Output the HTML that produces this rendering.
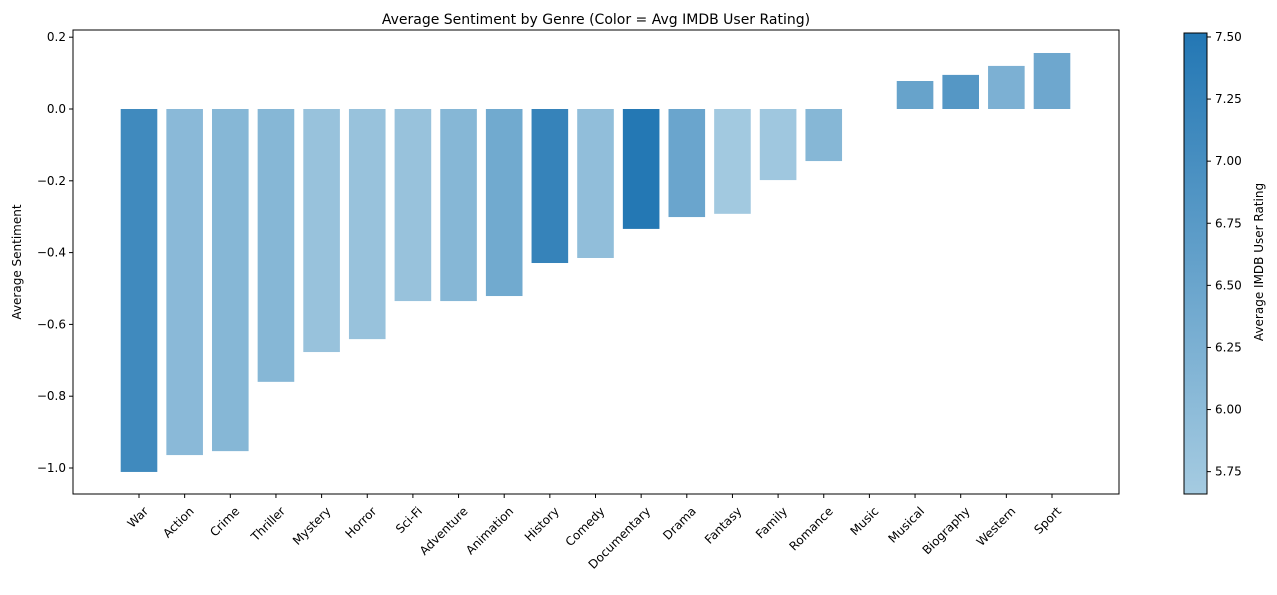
<!DOCTYPE html>
<html><head><meta charset="utf-8"><style>
body{margin:0;background:#fff;font-family:"Liberation Sans","DejaVu Sans",sans-serif;}
svg text{font-family:"DejaVu Sans","Liberation Sans",sans-serif;fill:#000;}
</style></head><body>
<svg id="chart" width="1277" height="590" xmlns="http://www.w3.org/2000/svg">
<defs><linearGradient id="cbg" x1="0" y1="1" x2="0" y2="0"><stop offset="0" stop-color="#a5cbe1"/><stop offset="1" stop-color="#2377b4"/></linearGradient></defs>
<text x="596" y="24" font-size="14" text-anchor="middle">Average Sentiment by Genre (Color = Avg IMDB User Rating)</text>
<g id="bars"></g>
<rect x="73" y="30" width="1046" height="464" fill="none" stroke="#000" stroke-width="1"/>
<g id="yaxis"></g><g id="xaxis"></g>
<text transform="translate(21,262) rotate(-90)" font-size="12" text-anchor="middle">Average Sentiment</text>
<rect x="1184" y="33" width="23" height="461" fill="url(#cbg)" stroke="#000" stroke-width="1"/>
<g id="cbaxis"></g>
<text transform="translate(1263,262) rotate(-90)" font-size="12" text-anchor="middle">Average IMDB User Rating</text>
</svg>
<script>
const genres=["War","Action","Crime","Thriller","Mystery","Horror","Sci-Fi","Adventure","Animation","History","Comedy","Documentary","Drama","Fantasy","Family","Romance","Music","Musical","Biography","Western","Sport"];
const sentiment=[-1.011,-0.964,-0.953,-0.760,-0.677,-0.641,-0.535,-0.535,-0.521,-0.429,-0.415,-0.334,-0.301,-0.292,-0.198,-0.145,0,0.078,0.095,0.120,0.156];
const ratings=[7.1,6.05,6.1,6.1,5.85,5.85,5.85,6.1,6.4,7.25,5.95,7.5,6.5,5.7,5.75,6.1,6.0,6.55,6.8,6.25,6.45];
const yTicks=[0.2,0.0,-0.2,-0.4,-0.6,-0.8,-1.0];
const cbTicks=[5.75,6.00,6.25,6.50,6.75,7.00,7.25,7.50];
const NS="http://www.w3.org/2000/svg";
const y=v=>109-v*359;
const x=i=>139+i*45.65;
const cbMin=5.66,cbMax=7.516;
const cy=v=>494-(v-cbMin)/(cbMax-cbMin)*461;
function col(r){let t=Math.max(0,Math.min(1,(r-cbMin)/(cbMax-cbMin)));
const a=[0xa5,0xcb,0xe1],b=[0x23,0x77,0xb4];
return "rgb("+a.map((c,k)=>Math.round(c+(b[k]-c)*t)).join(",")+")";}
function mk(tag,at,par){const e=document.createElementNS(NS,tag);for(const k in at)e.setAttribute(k,at[k]);document.getElementById(par).appendChild(e);return e;}
genres.forEach((g,i)=>{
 const v=sentiment[i];
 const r=mk("rect",{x:x(i)-18.3,y:Math.min(y(v),y(0)),width:36.6,height:Math.abs(y(v)-y(0)),fill:col(ratings[i])},"bars");
 
 
 const tk=mk("line",{x1:x(i),x2:x(i),y1:494,y2:498,stroke:"#000"},"xaxis");
 
 
 const t=mk("text",{transform:"translate("+(x(i)+4)+",506) rotate(-45)","font-size":"12","text-anchor":"end",dy:"0.7em"},"xaxis");
 t.textContent=g;
 
 
});
yTicks.forEach(v=>{
 const l=mk("line",{x1:69,x2:73,y1:y(v),y2:y(v),stroke:"#000"},"yaxis");
 
 
 const t=mk("text",{x:66,y:y(v)+4,"font-size":"12","text-anchor":"end"},"yaxis");
 t.textContent=(v<0?"\u2212":"")+Math.abs(v).toFixed(1);
 
 
});
cbTicks.forEach(v=>{
 const l=mk("line",{x1:1207,x2:1211,y1:cy(v),y2:cy(v),stroke:"#000"},"cbaxis");
 
 
 const t=mk("text",{x:1215,y:cy(v)+4,"font-size":"12"},"cbaxis");
 t.textContent=v.toFixed(2);
 
 
});
</script>
</body></html>
